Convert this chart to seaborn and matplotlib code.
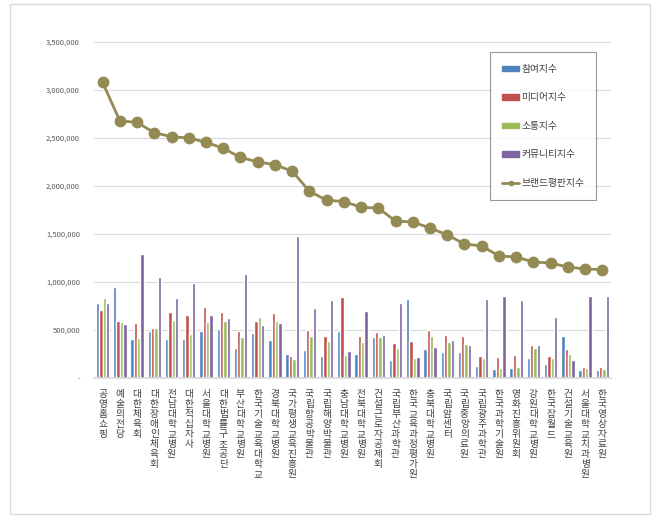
import pandas as pd
import matplotlib
matplotlib.use("Agg")
import matplotlib.pyplot as plt
import seaborn as sns
from matplotlib.lines import Line2D
from matplotlib.patches import Rectangle
from matplotlib.ticker import FuncFormatter

sns.set_theme(style="white")
plt.rcParams["font.family"] = ["Noto Sans CJK KR", "DejaVu Sans"]

categories = [
    "공영홈쇼핑", "예술의전당", "대한체육회", "대한장애인체육회", "전남대학교병원",
    "대한적십자사", "서울대학교병원", "대한법률구조공단", "부산대학교병원", "한국기술교육대학교",
    "경북대학교병원", "국가평생교육진흥원", "국립항공박물관", "국립해양박물관", "충남대학교병원",
    "전북대학교병원", "건설근로자공제회", "국립부산과학관", "한국교육과정평가원", "충북대학교병원",
    "국립암센터", "국립중앙의료원", "국립광주과학관", "한국과학기술원", "영화진흥위원회",
    "강원대학교병원", "한국잡월드", "건설기술교육원", "서울대학교치과병원", "한국영상자료원",
]

participation = [778000, 951000, 406000, 490000, 406000, 406000, 490000, 510000, 309000, 472000,
                 399000, 253000, 288000, 233000, 490000, 253000, 424000, 191000, 826000, 302000,
                 267000, 267000, 125000, 97000, 104000, 208000, 142000, 434000, 80000, 80000]
media = [705000, 594000, 569000, 517000, 687000, 660000, 736000, 687000, 490000, 594000,
         674000, 233000, 497000, 434000, 840000, 441000, 476000, 361000, 385000, 497000,
         448000, 441000, 229000, 219000, 240000, 344000, 233000, 299000, 115000, 115000]
communication = [833000, 580000, 413000, 517000, 604000, 455000, 583000, 590000, 431000, 635000,
                 590000, 198000, 441000, 389000, 240000, 378000, 427000, 316000, 205000, 434000,
                 372000, 351000, 205000, 104000, 115000, 312000, 205000, 253000, 108000, 97000]
community = [785000, 559000, 1288000, 1052000, 833000, 993000, 653000, 625000, 1083000, 552000,
             569000, 1483000, 729000, 812000, 281000, 701000, 444000, 781000, 219000, 323000,
             392000, 340000, 819000, 854000, 809000, 344000, 632000, 184000, 854000, 854000]
brand = [3079000, 2679000, 2662000, 2555000, 2514000, 2500000, 2455000, 2393000, 2297000, 2252000,
         2221000, 2155000, 1945000, 1852000, 1838000, 1779000, 1769000, 1635000, 1625000, 1563000,
         1490000, 1396000, 1375000, 1271000, 1260000, 1208000, 1198000, 1156000, 1135000, 1130000]

series_names = ["참여지수", "미디어지수", "소통지수", "커뮤니티지수"]
bar_colors = ["#4F81BD", "#C0504D", "#9BBB59", "#8064A2"]
line_name = "브랜드평판지수"
line_color = "#948A54"

rows = []
for name, vals in zip(series_names, [participation, media, communication, community]):
    for cat, v in zip(categories, vals):
        rows.append({"category": cat, "series": name, "value": v})
df = pd.DataFrame(rows)

fig = plt.figure(figsize=(6.6, 5.21), dpi=100)
ax = fig.add_axes([0.1424, 0.2745, 0.7833, 0.6449])

sns.barplot(data=df, x="category", y="value", hue="series", order=categories,
            hue_order=series_names, palette=bar_colors, width=0.78,
            saturation=1, errorbar=None, ax=ax, legend=False)
sns.pointplot(x=categories, y=brand, color=line_color, markers="o",
              markersize=7, linewidth=2, ax=ax, errorbar=None)

ax.set_ylim(0, 3500000)
ax.set_xlim(-0.5, len(categories) - 0.5)
ax.set_yticks(range(0, 3500001, 500000))
ax.yaxis.set_major_formatter(FuncFormatter(lambda v, p: "-" if v == 0 else f"{int(v):,}"))
ax.grid(axis="y", color="#D9D9D9", linewidth=0.8)
ax.set_axisbelow(True)
for s in ["top", "right", "left"]:
    ax.spines[s].set_visible(False)
ax.spines["bottom"].set_color("#D9D9D9")
ax.set_xlabel("")
ax.set_ylabel("")
ax.tick_params(axis="y", labelsize=5.5, colors="#595959", length=0, pad=10)
ax.tick_params(axis="x", labelsize=7, colors="#404040", length=0, pad=8)
ax.set_xticks(range(len(categories)))
ax.set_xticklabels(["\n".join(c) for c in categories], rotation=0, va="top",
                   linespacing=1.0)

handles = [Rectangle((0, 0), 1, 1, color=c) for c in bar_colors]
handles.append(Line2D([0], [0], color=line_color, linewidth=2, marker="o", markersize=3))
leg = ax.legend(handles, series_names + [line_name], loc="upper right",
                bbox_to_anchor=(0.975, 0.975), fontsize=7, frameon=True, fancybox=False,
                handlelength=1.8, handleheight=0.5, labelspacing=1.9, borderpad=1.2,
                handletextpad=0.2, borderaxespad=0.2)
leg.get_frame().set_edgecolor("#7F7F7F")
leg.get_frame().set_linewidth(0.8)
for t in leg.get_texts():
    t.set_color("#404040")

fig.patches.append(Rectangle((0.015, 0.013), 0.97, 0.98, transform=fig.transFigure,
                             fill=False, edgecolor="#D9D9D9", linewidth=1))

fig.savefig("out.png", dpi=100)
